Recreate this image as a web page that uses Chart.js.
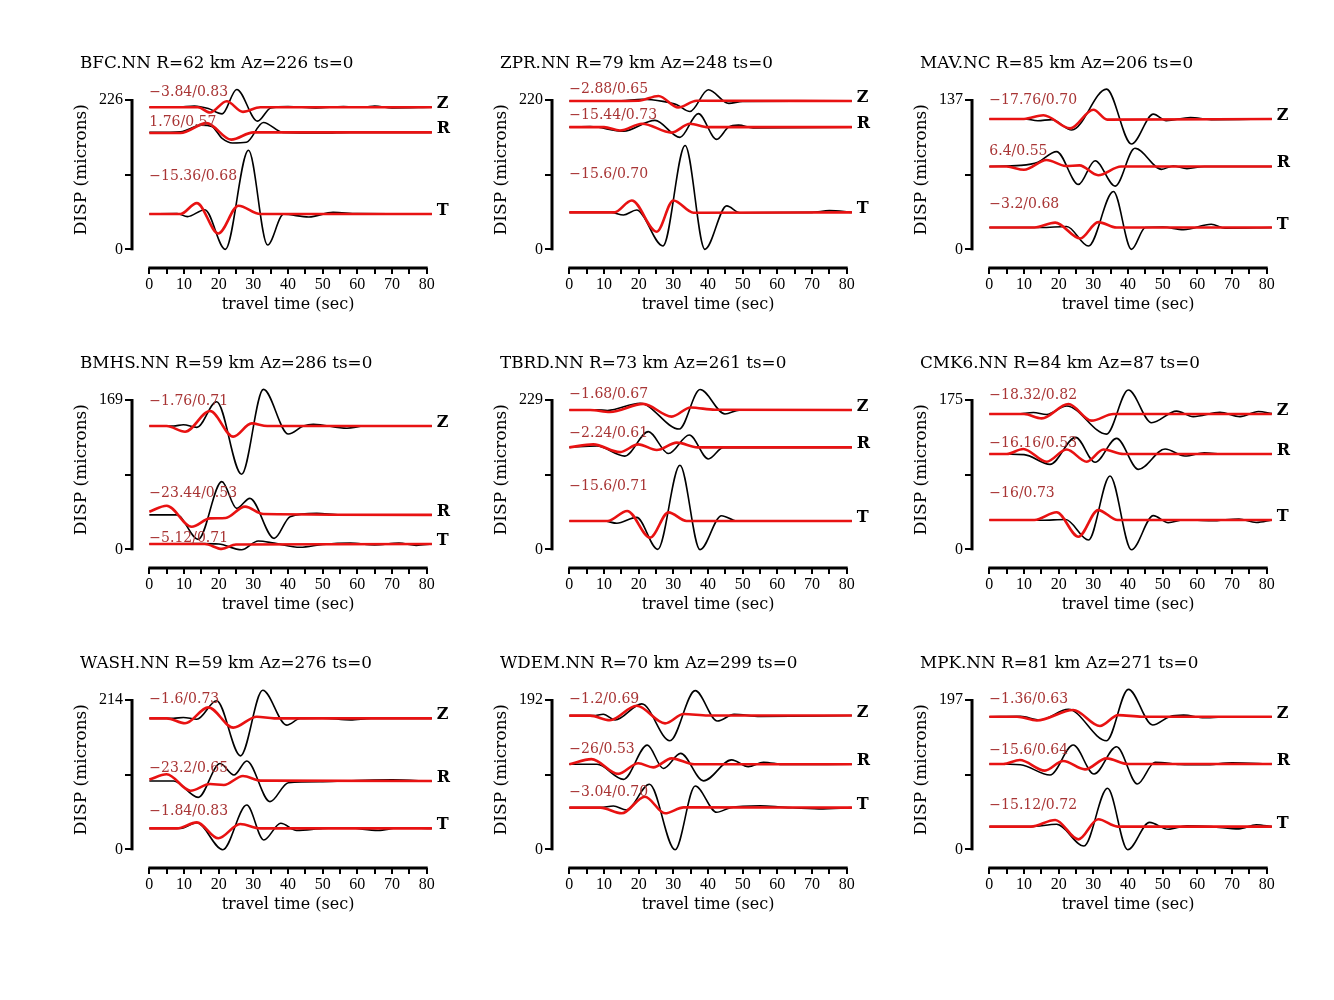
<!DOCTYPE html>
<html><head><meta charset="utf-8">
<script src="https://cdn.jsdelivr.net/npm/chart.js@4.4.1/dist/chart.umd.min.js"></script>
<style>
html,body{margin:0;padding:0;background:#fff;}
#wrap{position:relative;width:1334px;height:1000px;overflow:hidden;}
canvas{position:absolute;}
</style></head><body><div id="wrap"></div>
<script>
// ---- panel metadata ----
const stations = ['BFC.NN','ZPR.NN','MAV.NC','BMHS.NN','TBRD.NN','CMK6.NN','WASH.NN','WDEM.NN','MPK.NN'];
const distances = [62,79,85,59,73,84,59,70,81];
const azimuths = [226,248,206,286,261,87,276,299,271];
const tshift = [0,0,0,0,0,0,0,0,0];
const yMaxima = [226,220,137,169,229,175,214,192,197];
const components = ['Z','R','T'];
const xTicks = [0,5,10,15,20,25,30,35,40,45,50,55,60,65,70,75,80];
// time shift / correlation per component (Z,R,T)
const shifts = [[-3.84,1.76,-15.36],[-2.88,-15.44,-15.6],[-17.76,6.4,-3.2],[-1.76,-23.44,-5.12],[-1.68,-2.24,-15.6],[-18.32,-16.16,-16],[-1.6,-23.2,-1.84],[-1.2,-26,-3.04],[-1.36,-15.6,-15.12]];
const corrs = [[0.83,0.57,0.68],[0.65,0.73,0.70],[0.70,0.55,0.68],[0.71,0.53,0.71],[0.67,0.61,0.71],[0.82,0.53,0.73],[0.73,0.65,0.83],[0.69,0.53,0.70],[0.63,0.64,0.72]];
const annotLevels = [[237,192,110],[235,197,111],[137,90,41],[167,63,12.4],[237,178,96],[181,124,66],[215,116,54],[193,128,73],[198,130,58.5]];

// ---- waveforms [time (s), displacement (microns)] : Z, R, T ----
const obsBFC = [
 [[0,215],[8,215],[13,217],[17,213],[21,205],[25.2,242],[31.2,194],[35,214],[40,216],[48,214],[56,216],[62,215],[65,217],[70,214],[81.5,215]],
 [[0,177],[9,178],[15,188],[18,186],[21,168],[24,161],[28,162],[32.9,192],[38.5,177],[50,176],[58,177],[81.5,177]],
 [[0,53.5],[8,54],[11,49.5],[16,60],[21.9,0],[28.6,150],[34.1,6.5],[38.7,53],[46,49],[53,56],[60,54],[81.5,53.5]]];
const synBFC = [
 [[0,215],[14,215],[17.5,207],[22.3,224],[27,208],[32,215],[81.5,215]],
 [[0,176],[9,176],[16.5,191],[23.6,166],[30,177],[81.5,177]],
 [[0,53.5],[9,53.5],[13.7,70],[19.9,24],[25.7,66],[32,53.5],[81.5,53.5]]];
const obsZPR = [
 [[0,218.5],[15,219],[21,221],[27,218],[31,213],[34.8,203],[40.1,235],[46,215],[50,218],[81.5,218.5]],
 [[0,180],[6,181],[15.6,174],[24.7,190],[31.9,165],[37.2,200],[42.5,162],[45.9,180],[48.8,183],[53,179],[81.5,180]],
 [[0,54.5],[12,54.5],[15.6,50.5],[19.4,58],[27,5],[33.4,153],[39.1,0],[45.4,64],[49.2,54],[70,54.5],[75,57],[81.5,54.5]]];
const synZPR = [
 [[0,218.5],[20,219],[25.7,226],[31.4,209],[36.7,219],[81.5,218.5]],
 [[0,180],[10,180],[14.6,175],[21,185],[29.5,172],[34.8,185],[40,180],[81.5,180]],
 [[0,54.5],[13,54.5],[18,72],[25.2,26],[30,72],[35.8,54],[81.5,54.5]]];
const obsMAV = [
 [[0,119.6],[10,119.6],[14,118],[18,119],[23.8,109.5],[33.8,147],[41,96.6],[47.3,124],[51,118],[58,121],[64,119],[81.5,119.6]],
 [[0,76],[9,77],[14,80],[19.4,89.6],[25.7,59.6],[30.5,81.3],[36.3,58],[42,92.7],[49.7,73.4],[53,76.5],[57,74],[62,76],[81.5,76]],
 [[0,20],[15,20],[22.3,21],[28.6,3],[35.8,53],[41,0],[45,20],[50,20.5],[56,18],[64,23],[68,19.5],[81.5,20]]];
const synMAV = [
 [[0,119.6],[10,119.6],[15.6,123],[23.3,111],[30,128],[34,119],[81.5,119.6]],
 [[0,76],[5,76],[10,73],[16.5,82],[22,76.5],[26,77],[31.4,68],[38,76],[81.5,76]],
 [[0,20],[13,20],[19,24.5],[26.2,10],[31.4,25],[36.7,20],[81.5,20]]];
const obsBMHS = [
 [[0,139.6],[7,139.6],[9.8,141],[13.7,138],[19.4,167],[26.6,85],[32.9,181],[40.1,130.5],[44.4,139.6],[47.3,141.5],[57,137],[62,139.6],[81.5,139.6]],
 [[0,39],[7.9,39],[14.1,11.3],[20.9,76.6],[25.2,46.4],[29,57.7],[36,12.4],[40.6,37],[48.3,40.7],[55,39],[81.5,39]],
 [[0,6],[15,6.5],[20,6],[26.6,-0.5],[31.4,9.4],[36,7],[43.5,2.3],[50,5.5],[58,7],[65,5],[72,7],[77,4.5],[81.5,6]]];
const synBMHS = [
 [[0,139.6],[5,139.6],[10.3,133],[17.5,156.5],[24.2,127.5],[29.5,142.5],[34,139.6],[81.5,139.6]],
 [[0,42.6],[5,49.4],[12.2,25.6],[17.5,35],[22,35.5],[27.6,48.3],[32.9,40],[81.5,39]],
 [[0,6],[16,6],[20.9,0.5],[25,5.5],[81.5,6]]];
const obsTBRD = [
 [[0,213.7],[8,214],[11,213],[20.4,224],[31.7,184.5],[37.7,245],[44.9,207.5],[49,213.5],[81.5,213.7]],
 [[0,156.4],[7.9,158.5],[16,143],[22.8,180.5],[28.6,147],[34.6,175.4],[40.1,138.5],[44.4,156],[81.5,156.4]],
 [[0,43.5],[10,43.5],[13.7,40],[19.4,49],[25.5,0],[31.9,129],[37.7,-0.5],[43.9,51.6],[48.3,43.5],[81.5,43.5]]];
const synTBRD = [
 [[0,213.7],[6,213.7],[11.7,210.6],[21.3,223],[29.5,203.5],[35,217.5],[42,214],[81.5,213.7]],
 [[0,156.4],[6.9,161],[14.6,149],[19.9,161],[25.2,152.3],[31,163.6],[37,156.4],[81.5,156.4]],
 [[0,43.5],[11,43.5],[16.7,58.8],[23.3,18],[28.6,56.7],[33.8,43.5],[81.5,43.5]]];
const obsCMK6 = [
 [[0,158.6],[8,158.6],[12.7,160.3],[16.5,158],[22.3,168],[33.8,135],[40.1,186.7],[46.8,148.4],[54,162],[58.8,155.5],[66.5,160.5],[72.3,155.5],[77.6,161.5],[81.5,159]],
 [[0,111.7],[10,111],[17.5,99.6],[24.9,131.2],[30.5,102],[36.7,130],[43,93.7],[50.7,117.6],[56.4,109.4],[62,113],[68,111.5],[81.5,111.7]],
 [[0,34.4],[15,34],[22,35],[28.6,11],[34.8,86],[41,-0.5],[47.3,39.5],[51.6,31.2],[56,34.5],[64,33.5],[72,35.5],[77,31.5],[81.5,34.4]]];
const synCMK6 = [
 [[0,158.6],[10,158.6],[15.1,153.5],[22.8,170.3],[29.5,150.8],[35.8,158.6],[81.5,158.6]],
 [[0,111.7],[5,111.7],[9.8,117.6],[16.5,102.7],[22.3,117],[28.1,102.7],[32.9,117],[38.7,111.7],[81.5,111.7]],
 [[0,34.4],[13,34.4],[19.4,43.4],[25.7,14.8],[31.4,46],[37,34.4],[81.5,34.4]]];
const obsWASH = [
 [[0,187.7],[7,187.7],[9.8,189],[13.7,186.5],[19.4,213],[26.3,134],[32.7,228],[39.6,178],[43.5,187.5],[50,188],[58,185.5],[64,187.7],[81.5,187.7]],
 [[0,98],[7,98],[14.1,74.5],[20.4,123],[24.4,106.5],[28.1,126.6],[34.8,68.3],[40.1,95.5],[50,97],[60,98.5],[70,99.5],[81.5,97.5]],
 [[0,30],[9,30],[13.7,38],[21.2,-0.5],[28.1,63.5],[33,13.4],[37.9,37.3],[42.5,27],[50,30],[57,31],[66,27],[72,31],[81.5,30]]];
const synWASH = [
 [[0,187.7],[5,187.7],[10.3,180.6],[17,203.5],[24.2,174.4],[31,190],[36,187.7],[81.5,187.7]],
 [[0,100],[5,107.5],[11.9,84],[17.5,93.6],[21.5,92.2],[27,105],[32,98.5],[81.5,98]],
 [[0,30],[8,30],[13.7,38.7],[19.9,15.8],[26.2,36.3],[32,30],[81.5,30]]];
const obsWDEM = [
 [[0,171.9],[7,172],[9.8,173.6],[13.2,166.3],[20.9,187],[29,139.7],[36.3,204],[42.7,165],[47.5,173.5],[55,171],[81.5,172]],
 [[0,109.3],[8,109.3],[15.6,90],[22.5,134],[27.1,104],[32.1,123.4],[38.7,88],[46.8,115],[51.6,106.3],[56,112],[62,109],[81.5,109.3]],
 [[0,53.6],[9,53.6],[12.7,55.7],[16.5,50.6],[23.1,83.6],[30.5,-0.5],[36.3,81.4],[42.5,47.6],[46.5,53.6],[55,56],[62,54],[72,52],[81.5,53.6]]];
const synWDEM = [
 [[0,171.9],[6,171.9],[11.7,166],[19.4,184.7],[27.6,162],[33,174],[40,172],[81.5,172]],
 [[0,109.3],[6.4,116],[14.1,97],[19.9,110.6],[24.2,105.4],[29.5,117],[36,109.3],[81.5,109.3]],
 [[0,53.6],[9,53.6],[15.1,46.3],[21.8,67.7],[27.6,46.3],[33,54],[81.5,53.6]]];
const obsMPK = [
 [[0,175],[9,175.5],[14.6,170.6],[22.8,184.7],[33.8,143.3],[40.1,211],[47.1,164],[52,175],[56,177],[62,173.5],[70,175],[81.5,175]],
 [[0,112.6],[9,111.5],[17.5,98],[24.2,137.6],[30.2,99.4],[36.7,135.4],[42.7,86.2],[47.8,114.8],[55,112],[62,111.5],[70,114],[81.5,112.6]],
 [[0,30],[12,30],[19.4,33],[27.3,4.4],[34.1,80.5],[39.9,-0.5],[46.2,35.6],[51.6,26.4],[57,31],[64,30],[72,27],[77,32.5],[81.5,30]]];
const synMPK = [
 [[0,175],[8,175],[13.7,170],[24.2,183.8],[31.9,162.7],[37.2,177],[44,175],[81.5,175]],
 [[0,112.6],[4,112.6],[8.8,117.8],[16,103.8],[21.3,116.5],[27.6,105.5],[33.8,120],[40,112.6],[81.5,112.6]],
 [[0,30],[12,30],[19,38.7],[25.7,13.2],[31.4,39.6],[37,30],[81.5,30]]];

const observed = [obsBFC,obsZPR,obsMAV,obsBMHS,obsTBRD,obsCMK6,obsWASH,obsWDEM,obsMPK];
const synthetic = [synBFC,synZPR,synMAV,synBMHS,synTBRD,synCMK6,synWASH,synWDEM,synMPK];

// ---- styling ----
const SERIF = '"DejaVu Serif", "Liberation Serif", serif';
const TICKFONT = {family:'"Liberation Serif", serif', size:16};
const RED = 'rgb(232,18,18)';
const ANNOT = 'rgb(168,52,52)';
const W = 420, H = 290;

function fmtShift(v){ return (v < 0 ? '\u2212' : '') + String(Math.abs(v)); }

function panelPlugin(p){
  const ym = yMaxima[p];
  return {
    id:'panel'+p,
    afterDraw(chart){
      const ctx = chart.ctx, xs = chart.scales.x, ys = chart.scales.y, ca = chart.chartArea;
      ctx.save();
      ctx.strokeStyle = '#000'; ctx.lineWidth = 3; ctx.lineCap = 'butt';
      ctx.beginPath();
      ctx.moveTo(xs.getPixelForValue(0) - 1, ca.bottom);
      ctx.lineTo(xs.getPixelForValue(80) + 1, ca.bottom);
      ctx.stroke();
      ctx.beginPath();
      ctx.moveTo(ca.left, ys.getPixelForValue(0) + 1);
      ctx.lineTo(ca.left, ys.getPixelForValue(ym) - 1);
      ctx.stroke();
      // panel title
      ctx.fillStyle = '#000';
      ctx.font = '16.8px ' + SERIF;
      ctx.textAlign = 'left'; ctx.textBaseline = 'middle';
      ctx.fillText(stations[p] + ' R=' + distances[p] + ' km Az=' + azimuths[p] + ' ts=' + tshift[p], 20, 24);
      // axis titles
      ctx.font = '16px ' + SERIF;
      ctx.textAlign = 'center';
      ctx.fillText('travel time (sec)', xs.getPixelForValue(40), ca.bottom + 37);
      ctx.save();
      ctx.font = '17px ' + SERIF;
      ctx.translate(22, (ys.getPixelForValue(0) + ys.getPixelForValue(ym)) / 2 - 5);
      ctx.rotate(-Math.PI / 2);
      ctx.fillText('DISP (microns)', 0, 0);
      ctx.restore();
      // annotations and component letters
      for (let c = 0; c < 3; c++) {
        ctx.fillStyle = ANNOT;
        ctx.font = '14px ' + SERIF;
        ctx.textAlign = 'left'; ctx.textBaseline = 'middle';
        ctx.fillText(fmtShift(shifts[p][c]) + '/' + corrs[p][c].toFixed(2), xs.getPixelForValue(0), ys.getPixelForValue(annotLevels[p][c]));
        const tr = synthetic[p][c];
        ctx.fillStyle = '#000';
        ctx.font = 'bold 16px ' + SERIF;
        ctx.textBaseline = 'alphabetic';
        ctx.fillText(components[c], xs.getPixelForValue(80) + 10, ys.getPixelForValue(tr[tr.length - 1][1]) + 1);
      }
      ctx.restore();
    }
  };
}

const wrap = document.getElementById('wrap');
for (let p = 0; p < 9; p++) {
  const r = Math.floor(p / 3), c = p % 3;
  const cv = document.createElement('canvas');
  cv.width = W; cv.height = H;
  cv.style.left = (60 + 420 * c) + 'px';
  cv.style.top = (40 + 300 * r) + 'px';
  cv.style.width = W + 'px'; cv.style.height = H + 'px';
  wrap.appendChild(cv);
  const ym = yMaxima[p];
  const datasets = [];
  for (let k = 0; k < 3; k++) {
    datasets.push({
      label: components[k] + ' synthetic',
      data: synthetic[p][k].map(d => ({x: d[0], y: d[1]})),
      borderColor: RED, borderWidth: 2.6, order: 0, clip: false,
      cubicInterpolationMode: 'monotone', pointRadius: 0, fill: false
    });
    datasets.push({
      label: components[k] + ' observed',
      data: observed[p][k].map(d => ({x: d[0], y: d[1]})),
      borderColor: '#000', borderWidth: 1.6, order: 1, clip: false,
      cubicInterpolationMode: 'monotone', pointRadius: 0, fill: false
    });
  }
  new Chart(cv, {
    type: 'line',
    data: {datasets},
    options: {
      responsive: false, animation: false, devicePixelRatio: 1,
      layout: {padding: {left: 32, top: 60, right: 53.3, bottom: 32}},
      plugins: {legend: {display: false}, tooltip: {enabled: false}},
      scales: {
        x: {
          type: 'linear', min: -5, max: 80,
          afterBuildTicks: s => { s.ticks = xTicks.map(v => ({value: v})); },
          afterFit: s => { s.height = 30; },
          grid: {drawOnChartArea: false, drawTicks: true, tickLength: 6, color: '#000', lineWidth: 2},
          border: {display: false},
          ticks: {autoSkip: false, maxRotation: 0, padding: 1, color: '#000', font: TICKFONT,
                  callback: v => (v % 10 === 0 ? String(v) : '')}
        },
        y: {
          type: 'linear', min: -0.125 * ym, max: ym,
          afterBuildTicks: s => { s.ticks = [0, ym / 2, ym].map(v => ({value: v})); },
          afterFit: s => { s.width = 40; },
          grid: {drawOnChartArea: false, drawTicks: true, tickLength: 7, color: '#000', lineWidth: 2},
          border: {display: false},
          ticks: {padding: 2, color: '#000', font: TICKFONT,
                  callback: v => ((v === 0 || v === ym) ? String(v) : '')}
        }
      }
    },
    plugins: [panelPlugin(p)]
  });
}
</script></body></html>
